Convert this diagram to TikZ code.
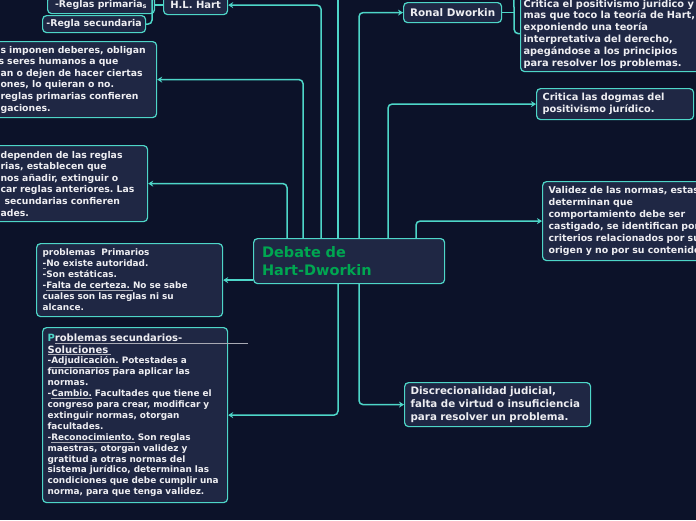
\documentclass[tikz,border=0pt]{standalone}
\usepackage{fontspec}
\setmainfont{DejaVu Sans}
\usepackage{xcolor}
\usetikzlibrary{arrows.meta,calc}

\definecolor{bgnavy}{HTML}{0C1229}
\definecolor{cardbg}{HTML}{1F2744}
\definecolor{edge}{HTML}{4ED6C8}
\definecolor{ink}{HTML}{EEEEF2}
\definecolor{titlegreen}{HTML}{00A651}
\definecolor{ulcol}{HTML}{A8AAB4}
\newcommand\ulg[1]{\leavevmode\rlap{\textcolor{ulcol}{\underline{\phantom{#1}}}}#1}
\newcommand\fs[2]{\fontsize{#1}{#2}\selectfont\bfseries}
\frenchspacing

\begin{document}
\begin{tikzpicture}[
  x=1pt, y=-1pt,
  card/.style={draw=edge, fill=cardbg, rounded corners=4pt, line width=1.2pt, text=ink, align=left, anchor=north west, inner xsep=6pt, inner ysep=2pt},
  tag/.style={card, align=center, inner sep=2pt},
  link/.style={draw=edge, line width=1.5pt, rounded corners=4pt},
  arr/.style={link, -{Stealth[length=5pt,width=6pt]}}
]
\useasboundingbox (0,0) rectangle (696,520);
\clip (0,0) rectangle (696,520);
\fill[bgnavy] (0,0) rectangle (696,520);

% ---------------- centre ----------------
\node[card, text width=174pt, minimum height=45pt, inner xsep=8.5pt, text=titlegreen, font=\fs{14.5}{17.7}] (central) at (253,238) {Debate de\\Hart-Dworkin};

% ---------------- Hart side ----------------
\node[tag, minimum width=64pt, minimum height=19pt, font=\fs{10}{12}] (hart) at (163,-5) {H.L. Hart};
\node[tag, minimum width=107pt, minimum height=17pt, font=\fs{9.4}{11}] (primarias) at (47,-4) {-Reglas primaria\textsubscript{s}};
\node[tag, minimum width=103pt, minimum height=17pt, font=\fs{9.4}{11}] (secundaria) at (42,15) {-Regla secundaria};
\node[card, text width=150pt, minimum height=76pt, font=\fs{9.3}{11.6}] (deberes) at (-6,41) {s imponen deberes, obligan\\\hspace*{-2pt}s seres humanos a que\\an o dejen de hacer ciertas\\ones, lo quieran o no.\\reglas primarias confieren\\gaciones.};
\node[card, text width=141pt, minimum height=76pt, font=\fs{9.3}{11.6}] (facultades) at (-6,145) {dependen de las reglas\\rias, establecen que\\nos añadir, extinguir o\\car reglas anteriores. Las\\\hspace*{4pt}secundarias confieren\\ades.};
\node[card, text width=174pt, minimum height=73pt, font=\fs{8.9}{11}] (primprob) at (36,243) {problemas\ \ Primarios\\\ulg{-}No existe autoridad.\\-Son estáticas.\\-\ulg{Falta de certeza.\ }No se sabe\\cuales son las reglas ni su\\alcance.};
\node[card, text width=175pt, inner xsep=5pt, minimum height=175pt, font=\fs{8.9}{10.9}] (secprob) at (42,327) {{\fs{10}{12}\textcolor{edge}{P}\rlap{\textcolor{ulcol}{\rule[-2.5pt]{193pt}{0.7pt}}}roblemas secundarios-\\\ulg{Soluciones\ }\par}
-\ulg{Adjudicación.} Potestades a\\funcionarios para aplicar las\\normas.\\-\ulg{Cambio.} Facultades que tiene el\\congreso para crear, modificar y\\extinguir normas, otorgan\\facultades.\\-\ulg{Reconocimiento.} Son reglas\\maestras, otorgan validez y\\gratitud a otras normas del\\sistema jurídico, determinan las\\condiciones que debe cumplir una\\norma, para que tenga validez.};

% ---------------- Dworkin side ----------------
\node[tag, minimum width=98pt, minimum height=20pt, font=\fs{10.4}{12}] (dworkin) at (403,2) {Ronal Dworkin};
\node[card, text width=200pt, inner xsep=3pt, minimum height=76pt, font=\fs{9.8}{11.8}] (critpos) at (520,-5) {Critica el positivismo jurídico y\\mas que toco la teoría de Hart,\\exponiendo una teoría\\interpretativa del derecho,\\apegándose a los principios\\para resolver los problemas.};
\node[card, text width=145pt, minimum height=31pt, font=\fs{9.8}{11.7}] (dogmas) at (536,88) {Critica las dogmas del\\positivismo jurídico.};
\node[card, text width=190pt, minimum height=79pt, font=\fs{9.4}{11.9}] (validez) at (542,181) {Validez de las normas, estas\\determinan que\\comportamiento debe ser\\castigado, se identifican por\\criterios relacionados por su\\origen y no por su contenido.};
\node[card, text width=174pt, minimum height=44pt, font=\fs{10.3}{12.6}] (disc) at (404,382) {Discrecionalidad judicial,\\falta de virtud o insuficiencia\\para resolver un problema.};

% ---------------- connectors ----------------
\coordinate (upper) at (338,-20);
\coordinate (hartup) at (152,-20);
\coordinate (dworkup) at (513,-20);
\coordinate (hartfork) at ($(hart.west)+(-11,0)$);
\coordinate (dworkfork) at ($(dworkin.east)+(12,0)$);

\draw[arr] ([xshift=68pt]central.north west) |- (hart.east);
\draw[arr] ([xshift=85pt]central.north west) -- (upper);
\draw[arr] ([xshift=50pt]central.north west) |- (deberes.east);
\draw[arr] ([xshift=34pt]central.north west) |- (facultades.east);
\draw[arr] (primprob.east -| central.west) -- (primprob.east);
\draw[arr] ([xshift=85pt]central.south west) |- (secprob.east);
\draw[arr] ([xshift=106pt]central.north west) |- (dworkin.west);
\draw[arr] ([xshift=135pt]central.north west) |- (dogmas.west);
\draw[arr] ([xshift=163pt]central.north west) |- (validez.west);
\draw[arr] ([xshift=106pt]central.south west) |- (disc.west);

\draw[link] (hart.west) -- (primarias.east);
\draw[link] (hartup) -- (hartfork) |- (secundaria.east);
\draw[link] (dworkin.east) -- (dworkfork);
\draw[link] (dworkup) -- (dworkfork) |- (critpos.west);
\end{tikzpicture}
\end{document}
